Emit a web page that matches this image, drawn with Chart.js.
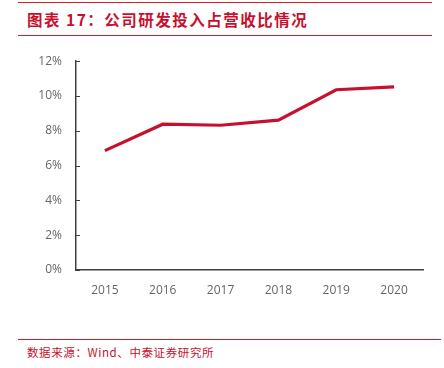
<!DOCTYPE html>
<html>
<head>
<meta charset="utf-8">
<script src="https://cdn.jsdelivr.net/npm/chart.js@4.4.0/dist/chart.umd.min.js"></script>
<style>
  body { margin: 0; background: #fff; }
  #wrap { position: relative; width: 444px; height: 368px; overflow: hidden; }
  #title {
    position: absolute; left: 18px; top: 2px; width: 414px; height: 34px;
    border-top: 1.5px solid #d42020; border-bottom: 1.5px solid #d42020;
    box-sizing: border-box;
    font-family: "Noto Sans CJK SC", sans-serif; font-weight: bold;
    font-size: 15.5px; letter-spacing: 1.5px; color: #c8102e;
    line-height: 32px; padding-left: 9px;
  }
  #source {
    position: absolute; left: 18px; top: 339px; width: 414px;
    border-top: 1.5px solid #d42020;
    font-family: "Noto Sans CJK SC", sans-serif;
    font-size: 11.5px; letter-spacing: 0.6px; color: #c8102e;
    padding-left: 9px; padding-top: 4px; line-height: 16px;
  }
  #chartBox { position: absolute; left: 0; top: 40px; width: 444px; height: 290px; }
</style>
</head>
<body>
<div id="wrap">
  <div id="title">图表 17：公司研发投入占营收比情况</div>
  <div id="chartBox"><canvas id="rdChart"></canvas></div>
  <div id="source">数据来源：Wind、中泰证券研究所</div>
</div>
<script>
'use strict';

// chart data
const years = ['2015', '2016', '2017', '2018', '2019', '2020'];
const rdRatio = [6.86, 8.38, 8.32, 8.61, 10.36, 10.53];
const yTicks = [0, 2, 4, 6, 8, 10, 12];

const axisColor = '#404040';
const labelColor = '#666666';
const lineColor = '#c8102e';

// short tick marks on the inner side of the y axis
const innerTicks = {
    id: 'innerTicks',
    afterDraw(chart) {
        const ctx = chart.ctx;
        const y = chart.scales.y;
        const x0 = chart.chartArea.left;
        ctx.save();
        ctx.strokeStyle = axisColor;
        ctx.lineWidth = 1;
        for (const v of yTicks) {
            const py = Math.round(y.getPixelForValue(v)) + 0.5;
            ctx.beginPath();
            ctx.moveTo(x0, py);
            ctx.lineTo(x0 + 4, py);
            ctx.stroke();
        }
        ctx.restore();
    }
};

const rdCtx = document.querySelector('#rdChart');

const rdConfig = {
    type: 'line',
    data: {
        labels: years,
        datasets: [{
            label: '研发投入占营收比',
            data: rdRatio,
            borderColor: lineColor,
            backgroundColor: lineColor,
            borderWidth: 3.2,
            pointRadius: 0,
            tension: 0
        }]
    },
    options: {
        responsive: true,
        maintainAspectRatio: false,
        animation: false,
        layout: {
            padding: { left: 0, right: 21, top: 20, bottom: 0 }
        },
        scales: {
            x: {
                offset: true,
                grid: {
                    display: false,
                    drawTicks: false
                },
                border: { color: axisColor, width: 1.5 },
                ticks: {
                    color: labelColor,
                    padding: 13,
                    font: { family: 'Open Sans', size: 12 }
                },
                afterFit: s => { s.height = 60; }
            },
            y: {
                min: 0,
                max: 12,
                afterBuildTicks: s => { s.ticks = yTicks.map(v => ({ value: v })); },
                grid: {
                    display: false,
                    drawTicks: false
                },
                border: { color: axisColor, width: 1.5 },
                ticks: {
                    color: labelColor,
                    padding: 14,
                    font: { family: 'Open Sans', size: 12 },
                    callback: value => `${value}%`
                },
                afterFit: s => { s.width = 76; }
            }
        },
        plugins: {
            legend: { display: false },
            tooltip: { enabled: false }
        }
    },
    plugins: [innerTicks]
};

new Chart(rdCtx, rdConfig);
</script>
</body>
</html>
